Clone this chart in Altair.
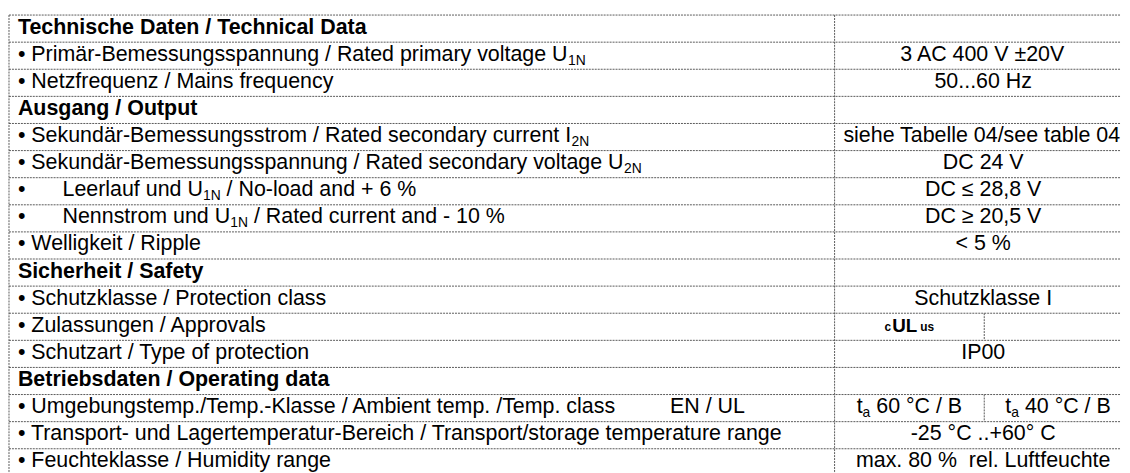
import re
import altair as alt
import pandas as pd

# ---------------- data ----------------
left_labels = [
    "Technische Daten / Technical Data",
    "• Primär-Bemessungsspannung / Rated primary voltage U_{1N}",
    "• Netzfrequenz / Mains frequency",
    "Ausgang / Output",
    "• Sekundär-Bemessungsstrom / Rated secondary current I_{2N}",
    "• Sekundär-Bemessungsspannung / Rated secondary voltage U_{2N}",
    "•\tLeerlauf und U_{1N} / No-load and + 6 %",
    "•\tNennstrom und U_{1N} / Rated current and - 10 %",
    "• Welligkeit / Ripple",
    "Sicherheit / Safety",
    "• Schutzklasse / Protection class",
    "• Zulassungen / Approvals",
    "• Schutzart / Type of protection",
    "Betriebsdaten / Operating data",
    "• Umgebungstemp./Temp.-Klasse / Ambient temp. /Temp. class\tEN / UL",
    "• Transport- und Lagertemperatur-Bereich / Transport/storage temperature range",
    "• Feuchteklasse / Humidity range",
]
header_rows = [0, 3, 9, 13]
right_values = [
    "", "3 AC 400 V ±20V", "50...60 Hz", "", "siehe Tabelle 04/see table 04",
    "DC 24 V", "DC ≤ 28,8 V", "DC ≥ 20,5 V", "< 5 %", "", "Schutzklasse I",
    "", "IP00", "", "", "-25 °C ..+60° C", "max. 80 %\u00a0 rel. Luftfeuchte",
]
split_values = {14: ["t_{a} 60 °C / B", "t_{a} 40 °C / B"]}
split_rows = [11, 14]
logo_row = 11
logo_parts = ["c", "UL", "us"]

# ---------------- layout / style ----------------
W, H = 1122, 465
N = len(left_labels)
TOP, RH = 5, 27.35
FONT = "Liberation Sans"
FS, FS_SUB = 21.6, 14
TEXT_X = 9
TAB_STOPS = [54, 667]
COL_X, SUB_X, RIGHT_X = 833, 984, 1133
LINE = "#5a5a5a"

# Arial / Liberation Sans advance widths (1/1000 em)
CW = {" ": 278, "\u00a0": 278, "%": 889, "+": 584, ",": 278, "-": 333,
      ".": 278, "/": 278, "<": 584, "≤": 549, "≥": 549, "±": 584, "°": 400,
      "•": 350, "ä": 556,
      "A": 667, "B": 667, "C": 722, "D": 722, "E": 667, "F": 611, "G": 778,
      "H": 722, "I": 278, "J": 500, "K": 667, "L": 556, "M": 833, "N": 722,
      "O": 778, "P": 667, "Q": 778, "R": 722, "S": 667, "T": 611, "U": 722,
      "V": 667, "W": 944, "X": 667, "Y": 667, "Z": 611,
      "a": 556, "b": 556, "c": 500, "d": 556, "e": 556, "f": 278, "g": 556,
      "h": 556, "i": 222, "j": 222, "k": 500, "l": 222, "m": 833, "n": 556,
      "o": 556, "p": 556, "q": 556, "r": 333, "s": 500, "t": 278, "u": 556,
      "v": 500, "w": 722, "x": 500, "y": 500, "z": 500}
for d in "0123456789":
    CW[d] = 556


def width(s, size):
    return sum(CW.get(ch, 556) for ch in s) * size / 1000.0


def parse(label):
    out = []
    for p in re.split(r"(_\{[^}]*\})", label):
        if not p:
            continue
        if p.startswith("_{"):
            out.append((p[2:-1], "sub"))
        else:
            out.append((p, "main"))
    return out


def seg_width(segs):
    return sum(width(t, FS_SUB if k == "sub" else FS) for t, k in segs)


recs = []


def place(segs, x0, row, bold=False):
    x = x0
    for txt, kind in segs:
        size = FS_SUB if kind == "sub" else FS
        stripped = txt.lstrip(" ")
        lead = width(txt[: len(txt) - len(stripped)], size)
        if stripped.strip():
            recs.append(dict(row=row + 0.5, x=x + lead, text=stripped.rstrip(" "),
                             kind="bold" if bold else kind))
        x += width(txt, size)
    return x


for i, lab in enumerate(left_labels):
    if i in header_rows:
        place([(lab, "main")], TEXT_X, i, bold=True)
        continue
    x = TEXT_X
    for k, part in enumerate(lab.split("\t")):
        if k > 0:
            x = min(s for s in TAB_STOPS if s > x)
        x = place(parse(part), x, i)

for i, val in enumerate(right_values):
    if val:
        segs = parse(val)
        place(segs, (COL_X + RIGHT_X) / 2 - seg_width(segs) / 2, i)

for i, (lv, rv) in split_values.items():
    for val, (a, b) in ((lv, (COL_X, SUB_X)), (rv, (SUB_X, RIGHT_X))):
        segs = parse(val)
        place(segs, (a + b) / 2 - seg_width(segs) / 2, i)

# UL approval logo as small text pieces
logo_sizes = [12, 19, 12]
logo_w = [width(p, s) * 1.12 for p, s in zip(logo_parts, logo_sizes)]
lx = (COL_X + SUB_X) / 2 - (sum(logo_w) + 2) / 2
for p, s, w in zip(logo_parts, logo_sizes, logo_w):
    recs.append(dict(row=logo_row + 0.5, x=lx, text=p,
                     kind="logo_big" if s > 14 else "logo_small"))
    lx += w + 1

texts = pd.DataFrame(recs)

hlines = pd.DataFrame({"b": list(range(N + 1))})
vlines = pd.DataFrame({
    "xe": [0, COL_X] + [SUB_X for _ in split_rows],
    "y0": [0, 0] + split_rows,
    "y1": [N, N] + [r + 1 for r in split_rows],
})

xs = alt.Scale(domain=[0, W], range=[0, W])
ys = alt.Scale(domain=[0, N], range=[TOP, TOP + N * RH])

h_layer = alt.Chart(hlines).mark_rule(
    color=LINE, strokeWidth=1, strokeDash=[2, 1]
).encode(
    y=alt.Y("b:Q", scale=ys, axis=None),
    x=alt.value(0),
    x2=alt.value(W),
)

v_layer = alt.Chart(vlines).mark_rule(
    color=LINE, strokeWidth=1, strokeDash=[2, 1]
).encode(
    x=alt.X("xe:Q", scale=xs, axis=None),
    y=alt.Y("y0:Q", scale=ys, axis=None),
    y2="y1:Q",
)


def text_layer(kind, size, weight, dy):
    return alt.Chart(texts).transform_filter(
        alt.datum.kind == kind
    ).mark_text(
        align="left", baseline="alphabetic", font=FONT, fontSize=size,
        fontWeight=weight, color="#000000", dy=dy,
    ).encode(
        x=alt.X("x:Q", scale=xs, axis=None),
        y=alt.Y("row:Q", scale=ys, axis=None),
        text="text:N",
    )


layers = [
    h_layer,
    v_layer,
    text_layer("main", FS, "normal", 5),
    text_layer("bold", FS, "bold", 5),
    text_layer("sub", FS_SUB, "normal", 9),
    text_layer("logo_small", 12, "bold", 4),
    text_layer("logo_big", 19, 900, 5),
]

chart = alt.layer(*layers).properties(
    width=W, height=H, padding=0
).configure_view(stroke=None)

chart.save("out.html", embed_options={"renderer": "svg", "actions": False})
